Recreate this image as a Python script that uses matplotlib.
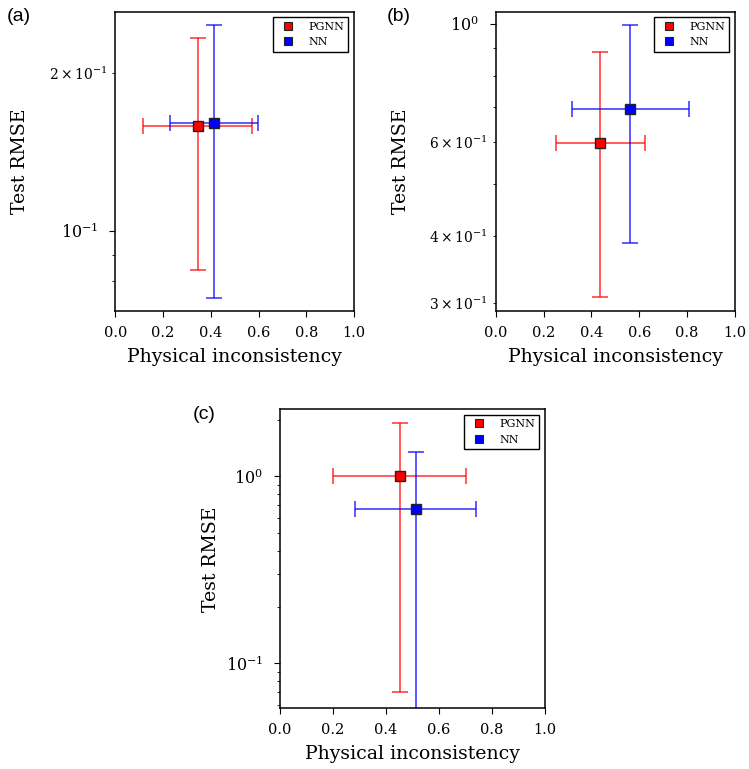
import matplotlib
matplotlib.use("Agg")
import matplotlib.pyplot as plt
from matplotlib.lines import Line2D

plt.rcParams['font.family'] = ['DejaVu Serif']
plt.rcParams['mathtext.fontset'] = 'dejavuserif'

panels = ["(a)", "(b)", "(c)"]
models = ["PGNN", "NN"]
colors = ["red", "blue"]

# per panel: [PGNN, NN]
x_vals = [[0.345, 0.412], [0.436, 0.563], [0.452, 0.512]]
x_errs = [[0.229, 0.184], [0.186, 0.243], [0.251, 0.229]]
y_vals = [[0.1588, 0.1609], [0.597, 0.693], [1.0, 0.669]]
y_errs = [[0.0747, 0.0866], [0.290, 0.304], [0.93, 0.676]]
y_lims = [(0.0701, 0.2624), (0.2891, 1.0545), (0.0574, 2.282)]

fig = plt.figure(figsize=(7.49, 7.69), dpi=100)
positions = [
    [0.1540, 0.5952, 0.3187, 0.3896],
    [0.6618, 0.5952, 0.3195, 0.3896],
    [0.3738, 0.0789, 0.3538, 0.3888],
]
ylabel_x = [-0.36, -0.36, -0.228]
label_pos = [(0.009, 0.990), (0.517, 0.990), (0.257, 0.472)]

for i, pos in enumerate(positions):
    ax = fig.add_axes(pos)
    for j, m in enumerate(models):
        ax.errorbar(x_vals[i][j], y_vals[i][j], xerr=x_errs[i][j], yerr=y_errs[i][j],
                    fmt='none', ecolor=colors[j], elinewidth=1.2, capsize=6,
                    capthick=1.2, alpha=0.75, zorder=2)
        ax.plot(x_vals[i][j], y_vals[i][j], marker='s', markersize=6.5,
                markerfacecolor=colors[j], markeredgecolor='#222222',
                markeredgewidth=1.0, linestyle='none', zorder=3)
    ax.set_yscale('log')
    ax.set_ylim(*y_lims[i])
    ax.set_xlim(0, 1.0)
    ax.set_xticks([0.0, 0.2, 0.4, 0.6, 0.8, 1.0])
    ax.tick_params(axis='x', which='major', labelsize=10.5, length=4, pad=6.5)
    ax.tick_params(axis='y', which='major', labelsize=11.5, length=4, pad=8)
    ax.tick_params(which='minor', length=2.5)
    for s in ax.spines.values():
        s.set_linewidth(1.1)
    ax.set_xlabel("Physical inconsistency", fontsize=13.6)
    ax.set_ylabel("Test RMSE", fontsize=13.6)
    ax.xaxis.set_label_coords(0.5, -0.123)
    ax.yaxis.set_label_coords(ylabel_x[i], 0.5)
    handles = [Line2D([], [], marker='s', markersize=6, linestyle='none',
                      markerfacecolor=c, markeredgecolor='#222222', markeredgewidth=0.8)
               for c in colors]
    leg = ax.legend(handles, models, loc='upper right', fontsize=8, fancybox=False,
                    framealpha=1, edgecolor='black')
    leg.get_frame().set_linewidth(1.0)
    fig.text(label_pos[i][0], label_pos[i][1], panels[i], fontsize=14,
             family=['Liberation Sans', 'DejaVu Sans'], va='top', ha='left')

fig.savefig("out.png", dpi=100)
